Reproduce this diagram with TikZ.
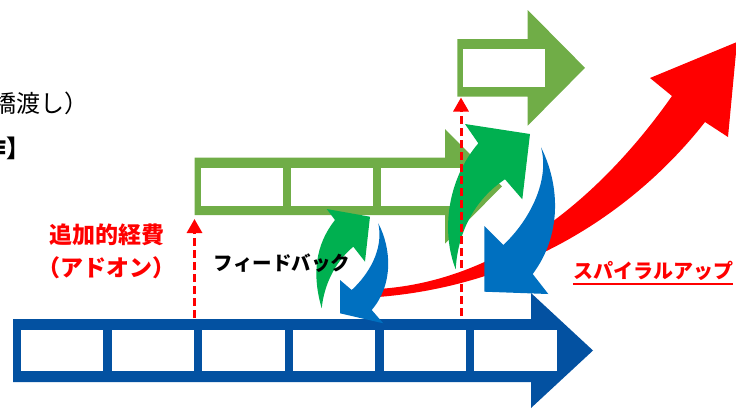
\documentclass[tikz,border=0pt]{standalone}
\usepackage{fontspec}
\newfontfamily\jp{Noto Sans CJK JP}
\usetikzlibrary{arrows.meta}
\definecolor{gstraight}{RGB}{112,173,71}
\definecolor{gcurve}{RGB}{0,176,80}
\definecolor{bcurve}{RGB}{0,112,192}
\definecolor{bstraight}{RGB}{3,81,161}
\definecolor{redc}{RGB}{255,0,0}
\begin{document}
\begin{tikzpicture}[x=1pt,y=-1pt,
  redlabel/.style={text=redc,font=\jp\bfseries\fontsize{23}{27}\selectfont,inner sep=0pt},
  blacklabel/.style={text=black,font=\jp\bfseries\fontsize{19.5}{24}\selectfont,inner sep=0pt},
  toplabel/.style={text=black,font=\jp\fontsize{24}{28}\selectfont,inner sep=0pt},
  addon/.style={draw=redc,line width=3pt,dash pattern=on 8pt off 4pt,-{Triangle[length=14pt,width=15pt]}}]
\useasboundingbox (0,0) rectangle (736,410);
\clip (0,0) rectangle (736,410);
% top-left cut text
\node[toplabel,anchor=west] (t1) at (-8,103) {橋渡し）};
\node[toplabel,font=\jp\bfseries\fontsize{24}{28}\selectfont,anchor=west] (t2) at (-17.5,148) {作】};
% blue straight arrow
\fill[bstraight] (13,319) -- (531,319) -- (531,293) -- (593,350.5) -- (531,408) -- (531,382) -- (13,382) -- cycle;
\foreach \i in {0,...,5} {\fill[white] (20.8+\i*90.7,329.5) rectangle (103.2+\i*90.7,370.5);}
% middle green straight arrow
\fill[gstraight] (194.7,157.7) -- (445,157.7) -- (445,129) -- (502,186.4) -- (445,243.7) -- (445,215) -- (194.7,215) -- cycle;
\foreach \i in {0,1,2} {\fill[white] (200.7+\i*90.2,167.7) rectangle (283+\i*90.2,205.7);}
% top green straight arrow
\fill[gstraight] (457.3,39) -- (527.7,39) -- (527.7,10) -- (585,67.85) -- (527.7,125.7) -- (527.7,96.7) -- (457.3,96.7) -- cycle;
\fill[white] (462.7,49) rectangle (545,86.7);
% red spiral arrow
\fill[redc] (378,289) .. controls (520,280) and (620,170) .. (672,96) -- (650,78) -- (737,42) -- (728,137) -- (705,122) .. controls (640,205) and (530,285) .. (378,297) -- cycle;
% small curved arrows
\fill[gcurve] (321.7,308.3) .. controls (312,275) and (315,245) .. (335,220) -- (326.7,209) -- (370,216.7) -- (365,261.7) -- (353.3,246.7) .. controls (335,262) and (324,285) .. (321.7,308.3) -- cycle;
\fill[bcurve] (378.3,223.3) .. controls (392,250) and (393,285) .. (371.7,310) -- (383.3,323.3) -- (340,313.3) -- (340,280) -- (351.7,290) .. controls (368,275) and (384,250) .. (378.3,223.3) -- cycle;
% big curved arrows
\fill[gcurve] (455.7,269.3) .. controls (441,232) and (447,180) .. (478.3,143.3) -- (465,124) -- (530,134) -- (522.3,199.3) -- (505,179.3) .. controls (478,197) and (458,228) .. (455.7,269.3) -- cycle;
\fill[bcurve] (541,147.3) .. controls (560,185) and (562,235) .. (532.7,274) -- (548.3,294) -- (484.3,291.7) -- (484.3,226) -- (503.3,245) .. controls (530,220) and (550,180) .. (541,147.3) -- cycle;
% red dashed add-on arrows
\coordinate (d1s) at (194.5,318);
\coordinate (d1e) at (194.5,219);
\coordinate (d2s) at (461,316);
\coordinate (d2e) at (461,97.5);
\draw[addon] (d1s) -- (d1e);
\draw[addon] (d2s) -- (d2e);
% labels
\node[redlabel] (add1) at (107,235) {追加的経費};
\node[redlabel] (add2) at (106,268) {（アドオン）};
\node[blacklabel] (fb) at (282,263) {フィードバック};
\node[redlabel,font=\jp\bfseries\fontsize{20}{24}\selectfont] (sp) at (653,271) {スパイラルアップ};
\path (sp.south west) ++(0,3) coordinate (ul1);
\path (sp.south east) ++(0,3) coordinate (ul2);
\draw[redc,line width=1.8pt] (ul1) -- (ul2);
\end{tikzpicture}
\end{document}
